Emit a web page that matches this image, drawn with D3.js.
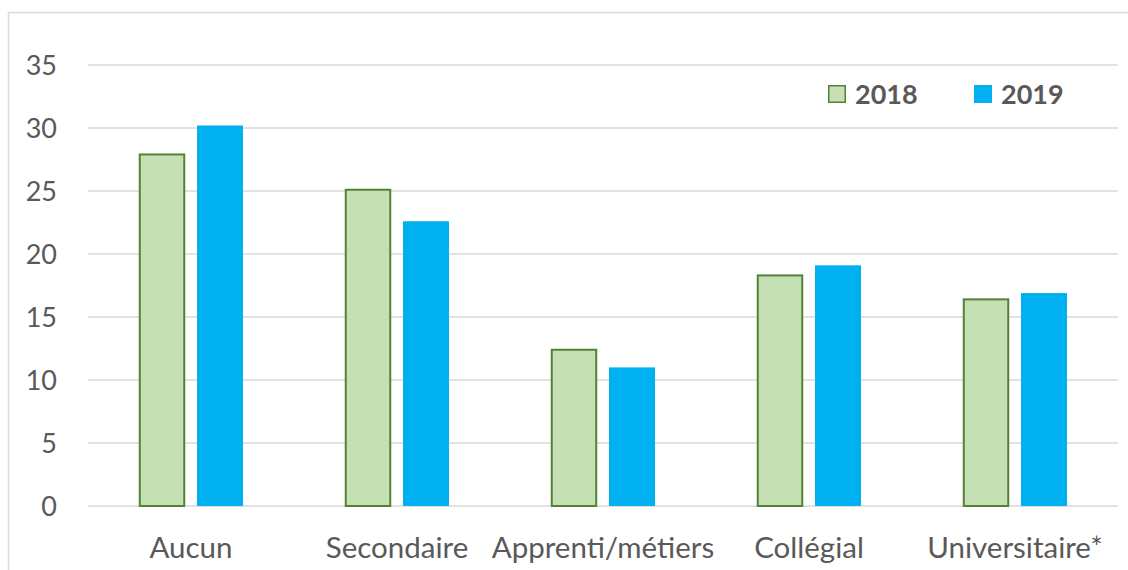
<!DOCTYPE html>
<html><head><meta charset="utf-8">
<script src="https://cdn.jsdelivr.net/npm/d3@7"></script>
<style>body{margin:0;background:#fff}svg{display:block}</style>
</head><body>
<script>
const categories = ["Aucun","Secondaire","Apprenti/métiers","Collégial","Universitaire*"];
const series = ["2018","2019"];
const values2018 = [27.9, 25.1, 12.4, 18.3, 16.4];
const values2019 = [30.2, 22.6, 11.0, 19.1, 16.9];
const yTicks = [0,5,10,15,20,25,30,35];

const W = 1128, H = 570;
const svg = d3.select("body").append("svg").attr("width", W).attr("height", H);
const font = "Lato, 'Open Sans', sans-serif";
const txt = "#595959";

svg.append("rect").attr("x",8.5).attr("y",12.5).attr("width",1130).attr("height",600)
  .attr("fill","#fff").attr("stroke","#d9d9d9").attr("stroke-width",1.5);

const left = 88, right = 1118;
const y = d3.scaleLinear().domain([0,35]).range([506,65]);
const x0 = d3.scaleBand().domain(categories).range([left,right]).padding(0);
const x1 = d3.scaleBand().domain(series).range([0,x0.bandwidth()]).paddingInner(12/58).paddingOuter(51/58);

const colors = {"2018":"#c5e0b4","2019":"#00b0f0"};
const strokes = {"2018":"#548235","2019":"none"};

// gridlines
svg.append("g").selectAll("line").data(yTicks).join("line")
  .attr("x1",left).attr("x2",right).attr("y1",d=>y(d)).attr("y2",d=>y(d))
  .attr("stroke","#d9d9d9").attr("stroke-width",1.5);

// y labels
svg.append("g").selectAll("text").data(yTicks).join("text")
  .attr("x",57).attr("y",d=>y(d)).attr("dy","0.36em").attr("text-anchor","end")
  .attr("font-family",font).attr("font-size",27).attr("fill",txt).text(d=>d);

const data = categories.map((c,i)=>({cat:c, vals:[{s:"2018",v:values2018[i]},{s:"2019",v:values2019[i]}]}));
const g = svg.append("g").selectAll("g").data(data).join("g").attr("transform",d=>`translate(${x0(d.cat)},0)`);
g.selectAll("rect").data(d=>d.vals).join("rect")
  .attr("x",d=>x1(d.s)+(d.s==="2018"?0.75:0)).attr("width",d=>x1.bandwidth()-(d.s==="2018"?1.5:0))
  .attr("y",d=>y(d.v)).attr("height",d=>y(0)-y(d.v))
  .attr("fill",d=>colors[d.s]).attr("stroke",d=>strokes[d.s]).attr("stroke-width",2);

// x labels
svg.append("g").selectAll("text").data(categories).join("text")
  .attr("x",d=>x0(d)+x0.bandwidth()/2).attr("y",558).attr("text-anchor","middle")
  .attr("font-family",font).attr("font-size",29.5).attr("fill",txt).text(d=>d);

// legend
const leg = [{s:"2018",x:828},{s:"2019",x:974}];
const lg = svg.append("g").selectAll("g").data(leg).join("g").attr("transform",d=>`translate(${d.x},85)`);
lg.append("rect").attr("x",d=>d.s==="2018"?0.75:0).attr("y",d=>d.s==="2018"?0.75:0)
  .attr("width",d=>d.s==="2018"?16.5:18).attr("height",d=>d.s==="2018"?16.5:18)
  .attr("fill",d=>colors[d.s]).attr("stroke",d=>strokes[d.s]).attr("stroke-width",1.5);
lg.append("text").attr("x",27).attr("y",9).attr("dy","0.36em")
  .attr("font-family",font).attr("font-weight","bold").attr("font-size",27).attr("fill",txt).text(d=>d.s);
</script>
</body></html>
